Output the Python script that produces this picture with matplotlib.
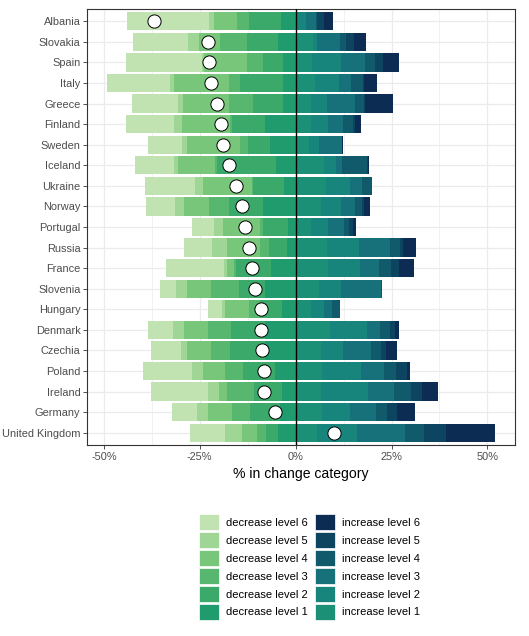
import numpy as np
import matplotlib
matplotlib.use("Agg")
import matplotlib.pyplot as plt
from matplotlib.patches import Patch

plt.rcParams['font.family'] = ['Liberation Sans', 'DejaVu Sans']

# countries, top to bottom
countries = ["Albania", "Slovakia", "Spain", "Italy", "Greece", "Finland", "Sweden",
             "Iceland", "Ukraine", "Norway", "Portugal", "Russia", "France", "Slovenia",
             "Hungary", "Denmark", "Czechia", "Poland", "Ireland", "Germany", "United Kingdom"]

# share (%) in each decrease level, level 1 .. level 6
dec1 = [3.8, 4.5, 3.4, 3.2, 3.2, 7.9, 6.8, 5.0, 3.0, 8.4, 1.9, 2.2, 6.5, 7.9, 3.6, 7.9, 8.1, 5.3, 3.5, 4.2, 4.5]
dec2 = [8.4, 8.2, 5.1, 11.4, 8.0, 8.6, 5.6, 15.6, 8.2, 8.9, 6.5, 4.7, 9.0, 6.9, 5.6, 9.0, 9.0, 8.5, 7.3, 7.8, 3.1]
dec3 = [3.1, 7.0, 4.1, 2.8, 6.2, 0.5, 2.0, 0.5, 0.3, 5.4, 1.0, 2.3, 0.5, 7.2, 3.0, 6.0, 4.9, 4.7, 7.0, 4.6, 2.4]
dec4 = [6.0, 5.6, 11.3, 14.4, 11.9, 12.5, 13.9, 9.6, 12.6, 6.5, 9.5, 8.8, 1.8, 6.4, 6.3, 6.1, 6.2, 5.6, 2.3, 6.3, 4.0]
dec5 = [1.4, 2.8, 0.5, 1.0, 1.4, 2.3, 1.3, 1.0, 2.1, 2.3, 2.3, 3.9, 1.0, 2.7, 0.7, 3.1, 1.6, 2.8, 2.7, 2.8, 4.4]
dec6 = [21.2, 14.2, 19.9, 16.5, 12.0, 12.5, 8.9, 10.1, 13.0, 7.6, 5.9, 7.1, 14.9, 4.3, 3.7, 6.3, 7.9, 12.8, 14.8, 6.5, 9.2]

# share (%) in each increase level, level 1 .. level 6
inc1 = [0.3, 4.6, 4.2, 5.1, 4.0, 4.0, 3.5, 7.3, 7.8, 6.6, 3.9, 8.3, 8.5, 6.1, 4.0, 8.9, 6.6, 7.0, 6.6, 6.8, 5.6]
inc2 = [2.5, 1.1, 7.5, 6.2, 4.3, 4.5, 2.6, 3.2, 6.3, 5.1, 4.5, 8.3, 8.4, 5.7, 3.4, 9.8, 5.7, 10.1, 12.4, 7.5, 10.4]
inc3 = [2.4, 5.8, 6.3, 3.2, 7.3, 3.8, 6.0, 1.5, 3.1, 3.9, 4.3, 8.0, 4.9, 10.5, 2.2, 3.3, 7.4, 5.9, 6.6, 6.7, 12.4]
inc4 = [0.5, 1.7, 2.7, 3.1, 2.3, 2.6, 0.1, 6.6, 2.6, 1.7, 1.3, 2.6, 3.1, 0.1, 1.9, 2.7, 2.6, 3.3, 4.6, 2.9, 5.1]
inc5 = [1.6, 2.1, 2.0, 0.2, 0.2, 0.7, 0.0, 0.3, 0.0, 0.6, 1.0, 0.9, 2.1, 0.0, 0.0, 1.2, 1.3, 2.7, 2.7, 2.5, 5.8]
inc6 = [2.5, 3.1, 4.2, 3.4, 7.3, 1.4, 0.1, 0.3, 0.0, 1.6, 0.7, 3.3, 3.9, 0.2, 0.0, 1.1, 2.8, 0.7, 4.2, 4.6, 12.8]

# circle markers
centre = [-37.0, -22.9, -22.6, -22.1, -20.4, -19.5, -18.9, -17.4, -15.6, -14.1, -13.1,
          -12.2, -11.3, -10.5, -8.9, -8.9, -8.8, -8.3, -8.2, -5.3, 10.0]

dec_colors = ["#209b6d", "#3aa96a", "#57b76f", "#78c67a", "#9fd696", "#c1e3b1"]
inc_colors = ["#1b9077", "#17857b", "#16717a", "#115a6b", "#0d4560", "#0c2c53"]

fig = plt.figure(figsize=(5.29, 6.36), dpi=100)
ax = fig.add_axes([87 / 529, 1 - 445 / 636, 428 / 529, 436 / 636])

y = np.arange(len(countries))
h = 0.89

left = np.zeros(len(countries))
for vals, col in zip([dec1, dec2, dec3, dec4, dec5, dec6], dec_colors):
    vals = np.array(vals)
    ax.barh(y, -vals, left=-left, height=h, color=col, linewidth=0, zorder=2)
    left += vals

left = np.zeros(len(countries))
for vals, col in zip([inc1, inc2, inc3, inc4, inc5, inc6], inc_colors):
    vals = np.array(vals)
    ax.barh(y, vals, left=left, height=h, color=col, linewidth=0, zorder=2)
    left += vals

ax.axvline(0, color="black", linewidth=1.0, zorder=3)
ax.plot(centre, y, "o", markersize=9.5, markerfacecolor="white", markeredgecolor="black",
        markeredgewidth=0.7, zorder=4)

ax.set_xlim(-54.4, 57.2)
ax.set_ylim(len(countries) - 0.4, -0.6)
ax.set_yticks(y)
ax.set_yticklabels(countries)
ax.set_xticks([-50, -25, 0, 25, 50])
ax.set_xticklabels(["-50%", "-25%", "0%", "25%", "50%"])
ax.set_xticks([-37.5, -12.5, 12.5, 37.5], minor=True)
ax.tick_params(axis="both", which="major", labelsize=7.9, labelcolor="#4d4d4d",
               color="#333333", length=2.75, width=0.6, pad=2)
ax.tick_params(axis="x", which="minor", length=0)
ax.grid(True, which="major", color="#ebebeb", linewidth=0.9, zorder=0)
ax.grid(True, which="minor", axis="x", color="#ebebeb", linewidth=0.5, zorder=0)
ax.set_axisbelow(True)
for s in ax.spines.values():
    s.set_color("#333333")
    s.set_linewidth(0.8)
ax.set_xlabel("% in change category", fontsize=10.1, labelpad=4)

handles = [Patch(facecolor=c, edgecolor="white", linewidth=0.5) for c in dec_colors[::-1]]
handles += [Patch(facecolor=c, edgecolor="white", linewidth=0.5) for c in inc_colors[::-1]]
labels = ["decrease level %d" % i for i in range(6, 0, -1)]
labels += ["increase level %d" % i for i in range(6, 0, -1)]
fig.legend(handles, labels, ncol=2, loc="center", bbox_to_anchor=(309.5 / 529, 1 - 567 / 636),
           frameon=False, fontsize=8, handlelength=1.8, handleheight=1.8,
           handletextpad=0.7, columnspacing=0.6, labelspacing=0.2, borderpad=0)

fig.savefig("out.png", dpi=100)
